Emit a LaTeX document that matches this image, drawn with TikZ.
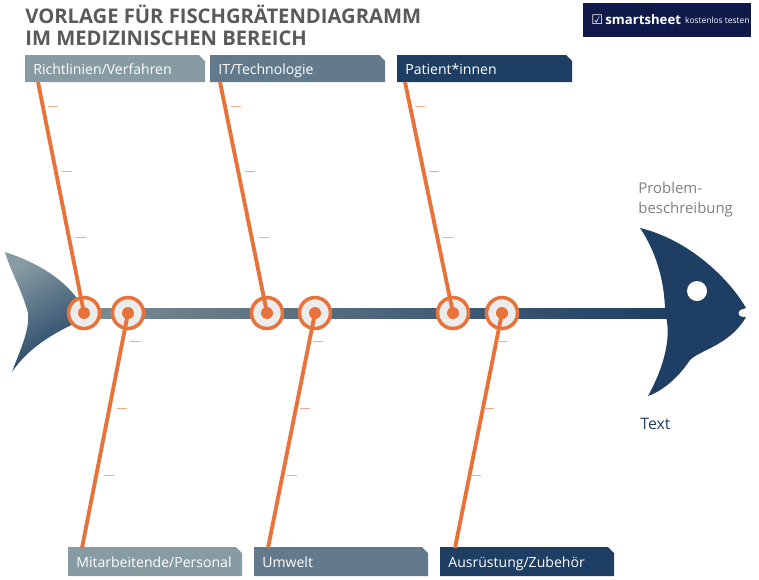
\documentclass[tikz,border=0pt]{standalone}
\usepackage{fontspec}
\setmainfont{Open Sans}
\newfontfamily\symfont{DejaVu Sans}
\usetikzlibrary{positioning}
\definecolor{bonelight}{HTML}{879BA2}
\definecolor{bonemid}{HTML}{627A8C}
\definecolor{bonedark}{HTML}{1E3F63}
\definecolor{boneorange}{HTML}{E8733A}
\definecolor{logoblue}{HTML}{0F1A4A}
\definecolor{titlegray}{HTML}{5A5A5A}
\tikzset{
  catbox/.style={text=white,font=\fontsize{8}{10}\selectfont,anchor=base west,inner sep=0pt},
  bone/.style={draw=boneorange,line width=2.2pt},
  tick/.style={draw=boneorange!60,line width=0.5pt},
  joint/.style={circle,draw=boneorange,fill=gray!15,line width=2pt,minimum size=0.62cm,inner sep=0pt},
}
\newcommand{\catshape}[5]{% x1,y1,x2,y2,color
  \fill[#5] (#1,#2) -- (#3-6,#2) -- (#3,#2+6) -- (#3,#4) -- (#1,#4) -- cycle;}
\begin{document}
\begin{tikzpicture}[x=0.02cm,y=-0.02cm]
\useasboundingbox (0,0) rectangle (759,579);
% title
\node[anchor=north west,inner sep=0pt,text=titlegray,font=\bfseries\fontsize{11.5}{12.5}\selectfont,align=left] (title) at (25,5) {VORLAGE FÜR FISCHGRÄTENDIAGRAMM\\IM MEDIZINISCHEN BEREICH};
\fill[logoblue] (583,3) rectangle (751,37);
\node[anchor=west,text=white,inner sep=0pt,font=\bfseries\fontsize{7.5}{9}\selectfont] (logo) at (591,20) {{\symfont ☑}\,smartsheet};
\node[right=2pt of logo,text=white,inner sep=0pt,font=\fontsize{4.8}{6}\selectfont] (logotxt) {kostenlos testen};
% category boxes
\catshape{25}{55}{205}{82}{bonelight}
\catshape{210}{55}{385}{82}{bonemid}
\catshape{397}{55}{572}{82}{bonedark}
\catshape{68}{547}{242}{576}{bonelight}
\catshape{254}{547}{428}{576}{bonemid}
\catshape{440}{547}{614}{576}{bonedark}
\node[catbox] (c1) at (33,74) {Richtlinien/Verfahren};
\node[catbox] (c2) at (218,74) {IT/Technologie};
\node[catbox] (c3) at (405,74) {Patient*innen};
\node[catbox] (c4) at (76,567) {Mitarbeitende/Personal};
\node[catbox] (c5) at (262,567) {Umwelt};
\node[catbox] (c6) at (448,567) {Ausrüstung/Zubehör};
% tail
\shade[left color=bonelight,right color=bonedark,shading angle=30]
  (5,252) .. controls (45,265) and (70,285) .. (82,306)
  -- (82,320) .. controls (60,330) and (30,345) .. (12,372)
  .. controls (20,350) and (30,330) .. (28,313)
  .. controls (22,290) and (10,270) .. (5,252) -- cycle;
% spine
\shade[left color=bonelight!90!black,right color=bonedark] (85,308) rectangle (670,318);
% head
\fill[bonedark] (640,228) .. controls (690,240) and (730,280) .. (746,308)
  -- (740,310) .. controls (736,314) and (740,318) .. (746,317)
  .. controls (730,345) and (700,350) .. (690,360)
  .. controls (680,375) and (665,390) .. (648,396)
  .. controls (665,365) and (672,335) .. (665,313)
  .. controls (665,280) and (655,250) .. (640,228) -- cycle;
\fill[white] (697,291) circle[radius=10];
\node[anchor=north west,inner sep=0pt,text=gray,font=\fontsize{8.5}{11}\selectfont,align=left] (prob) at (638,182) {Problem-\\beschreibung};
\node[anchor=west,inner sep=0pt,text=bonedark,font=\fontsize{9}{11}\selectfont] (txt) at (640,424) {Text};
% joints
\foreach \n/\x in {j1/84,j2/128,j3/267,j4/315,j5/453,j6/502}
  \node[joint] (\n) at (\x,313) {};
% bones
\coordinate (t1) at (38,82); \coordinate (t3) at (220,82); \coordinate (t5) at (405,82);
\coordinate (t2) at (82,548); \coordinate (t4) at (268,548); \coordinate (t6) at (455,548);
\foreach \i in {1,...,6} {
  \draw[bone] (t\i) -- (j\i.center);
  \fill[boneorange] (j\i.center) circle[radius=6];
}
% ticks
\foreach \x in {0,183,367} {
  \draw[tick] (48+\x,106) -- ++(10,0);
  \draw[tick] (62+\x,171) -- ++(10,0);
  \draw[tick] (76+\x,237) -- ++(10,0);
  \draw[tick] (130+\x,341) -- ++(10,0);
  \draw[tick] (117+\x,408) -- ++(10,0);
  \draw[tick] (104+\x,475) -- ++(10,0);
}
\end{tikzpicture}
\end{document}
